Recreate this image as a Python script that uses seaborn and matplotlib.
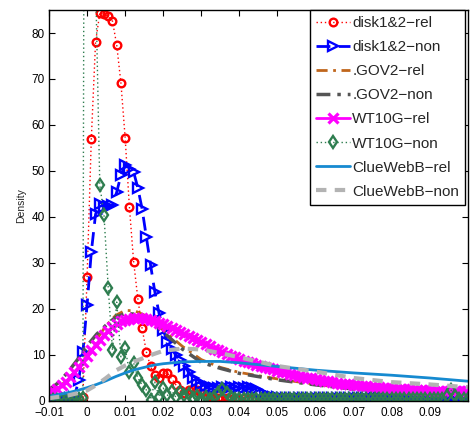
import numpy as np
import pandas as pd
import matplotlib
matplotlib.use("Agg")
import matplotlib.pyplot as plt
import seaborn as sns

sns.set_style("white")
plt.rcParams['font.family'] = ['Liberation Sans', 'DejaVu Sans']

# evaluation grid of the density estimates
x_fine = np.linspace(-0.01, 0.1, 100)
x_coarse = [-0.01, -0.0075, -0.005, -0.0025, 0.0, 0.0025, 0.005, 0.0075, 0.01, 0.0125,
            0.015, 0.0175, 0.02, 0.025, 0.03, 0.035, 0.04, 0.05, 0.06, 0.07, 0.08, 0.09, 0.1]

disk_rel = [0.4, 0.4, 0.4, 0.4, 0.4, 0.4, 0.4, 0.5, 0.9,
            27.0, 57.0, 78.0, 84.3, 84.1, 83.7, 82.6, 77.4, 69.1, 57.2,
            42.2, 30.3, 22.2, 15.8, 10.7, 7.5, 5.6, 5.0, 6.0, 6.1,
            4.8, 3.5, 2.4, 1.8, 2.3, 2.7, 2.4, 1.8, 1.3, 1.0,
            0.8, 0.7, 0.6, 0.6, 0.5, 0.5, 0.5, 0.6, 0.5, 0.5,
            0.5, 0.4, 0.4, 0.4, 0.4, 0.4, 0.4, 0.4, 0.4, 0.4,
            0.4, 0.4, 0.4, 0.4, 0.4, 0.4, 0.4, 0.4, 0.4, 0.4,
            0.4, 0.4, 0.4, 0.4, 0.4, 0.4, 0.4, 0.4, 0.4, 0.4,
            0.4, 0.4, 0.4, 0.4, 0.4, 0.4, 0.4, 0.4, 0.4, 0.4,
            0.4, 0.4, 0.4, 0.4, 0.4, 0.4, 0.4, 0.4, 0.4, 0.4, 0.4]

disk_non = [0.5, 0.5, 0.5, 0.5, 0.5, 0.6, 0.9,
            4.5, 10.6, 20.9, 32.4, 40.6, 42.8, 42.2, 42.4, 42.6, 45.4,
            49.1, 51.3, 50.5, 49.8, 46.3, 41.8, 35.7, 29.6, 23.8, 19.1,
            15.4, 12.8, 11.2, 10.0, 9.0, 7.5, 6.3, 5.0, 4.3, 3.7,
            3.3, 3.0, 2.9, 2.9, 3.0, 2.8, 3.0, 2.9, 3.1, 2.9,
            3.0, 2.8, 2.5, 2.0, 1.5, 1.1, 0.9, 0.8, 0.7, 0.7,
            0.7, 0.6, 0.7, 0.6, 0.7, 0.6, 0.7, 0.6, 0.7, 0.6,
            0.7, 0.6, 0.7, 0.6, 0.7, 0.6, 0.7, 0.6, 0.7, 0.6,
            0.7, 0.6, 0.7, 0.6, 0.7, 0.6, 0.7, 0.6, 0.7, 0.6,
            0.7, 0.6, 0.7, 0.6, 0.7, 0.6, 0.7, 0.6, 0.7, 0.6,
            0.7, 0.6, 0.7]

gov_rel = [1.8, 3.0, 4.7, 7.0, 10.0, 13.4, 16.4, 18.6, 19.7, 19.6, 18.7, 17.2,
           15.4, 11.9, 9.0, 7.3, 6.2, 4.8, 3.6, 2.6, 2.0, 1.6, 1.3]
gov_non = [2.4, 4.0, 6.3, 9.0, 12.0, 14.5, 16.5, 18.2, 19.0, 18.9, 18.1, 16.7,
           15.0, 11.3, 8.4, 7.1, 6.0, 4.6, 3.5, 2.6, 2.0, 1.6, 1.3]

wt_rel = [1.7, 2.2, 2.7, 3.4, 4.2, 5.2, 6.3, 7.4, 8.5, 9.7,
          11.0, 12.2, 13.3, 14.4, 15.3, 16.1, 16.8, 17.3, 17.7, 17.9,
          18.0, 18.05, 18.0, 17.8, 17.6, 17.3, 17.0, 16.7, 16.3, 15.9,
          15.5, 15.0, 14.6, 14.1, 13.7, 13.2, 12.8, 12.3, 11.9, 11.4,
          11.0, 10.6, 10.2, 9.8, 9.5, 9.1, 8.8, 8.5, 8.2, 7.9,
          7.6, 7.35, 7.1, 6.85, 6.6, 6.4, 6.2, 5.95, 5.75, 5.5,
          5.3, 5.1, 4.9, 4.75, 4.55, 4.4, 4.25, 4.1, 3.95, 3.8,
          3.7, 3.6, 3.5, 3.4, 3.3, 3.2, 3.1, 3.0, 2.95, 2.9,
          2.8, 2.75, 2.7, 2.6, 2.55, 2.5, 2.45, 2.4, 2.35, 2.3,
          2.3, 2.25, 2.25, 2.2, 2.2, 2.2, 2.15, 2.15, 2.1, 2.1]

wt_non = [0.3, 0.3, 0.3, 0.3, 0.3, 0.3, 0.3, 0.4, 0.6,
          400.0, 500.0, 92.0,
          47.0, 40.4, 24.6, 11.0, 21.5, 9.6, 11.5, 6.3, 8.3, 5.0,
          3.5, 2.4, 0.3, 4.1, 0.9, 2.8, 1.2, 2.2, 0.8, 2.0,
          1.2, 1.5, 0.6, 1.0, 0.5, 0.9, 0.5, 0.8, 1.8, 2.6,
          1.8, 0.8, 0.5, 0.4, 0.4, 0.4, 0.4, 0.4, 0.4, 0.4,
          0.4, 0.4, 0.4, 0.4, 0.4, 0.4, 0.4, 0.4, 0.4, 0.4,
          0.4, 0.4, 0.4, 0.4, 0.4, 0.4, 0.4, 0.4, 0.4, 0.4,
          0.4, 0.4, 0.4, 0.4, 0.4, 0.4, 0.4, 0.4, 0.4, 0.4,
          0.4, 0.4, 0.4, 0.4, 0.4, 0.4, 0.4, 0.4, 0.4, 0.4,
          0.4, 0.5, 1.0, 2.4, 1.0, 0.4, 0.4, 0.4]

cw_rel = [1.0, 1.4, 1.8, 2.3, 2.9, 3.6, 4.4, 5.3, 6.1, 6.8, 7.3, 7.8,
          8.1, 8.5, 8.6, 8.6, 8.3, 7.5, 6.7, 6.1, 5.6, 5.0, 4.3]
cw_non = [0.6, 0.9, 1.2, 1.7, 2.3, 3.5, 5.0, 6.6, 7.7, 8.6, 9.4, 10.2,
          10.9, 11.4, 11.2, 10.4, 9.5, 7.6, 6.4, 5.0, 4.1, 3.6, 3.0]

labels = ["disk1&2\u2212rel", "disk1&2\u2212non", ".GOV2\u2212rel", ".GOV2\u2212non",
          "WT10G\u2212rel", "WT10G\u2212non", "ClueWebB\u2212rel", "ClueWebB\u2212non"]

xtick_vals = [-0.01, 0.0, 0.01, 0.02, 0.03, 0.04, 0.05, 0.06, 0.07, 0.08, 0.09]
xtick_labels = ["\u22120.01", "0", "0.01", "0.02", "0.03", "0.04", "0.05", "0.06", "0.07", "0.08", "0.09"]
ytick_vals = [0, 10, 20, 30, 40, 50, 60, 70, 80]

fig = plt.figure(figsize=(4.7, 4.22), dpi=100)
ax = fig.add_axes([0.1043, 0.0498, 0.891, 0.9265])

def draw(x, y, label, **kw):
    sns.lineplot(x=np.asarray(x), y=np.asarray(y), ax=ax, label=label,
                 errorbar=None, sort=False, **kw)

draw(x_fine, disk_rel, labels[0], color="#ff0000", linestyle=(0, (1, 2)), linewidth=1.0,
     marker="o", markersize=5.5, markerfacecolor="none", markeredgecolor="#ff0000",
     markeredgewidth=1.7)
draw(x_fine, disk_non, labels[1], color="#0000ff", linestyle=(0, (5, 3)), linewidth=2.0,
     marker=">", markersize=6.5, markerfacecolor="none", markeredgecolor="#0000ff",
     markeredgewidth=1.7)
draw(x_coarse, gov_rel, labels[2], color="#c0661c", linestyle=(0, (4, 2, 1, 2)), linewidth=2.0)
draw(x_coarse, gov_non, labels[3], color="#555555", linestyle=(0, (4, 2, 1, 2)), linewidth=2.5)
draw(x_fine, wt_rel, labels[4], color="#ff00ff", linestyle="-", linewidth=2.0,
     marker="x", markersize=6.5, markeredgecolor="#ff00ff", markeredgewidth=2.3)
draw(x_fine, wt_non, labels[5], color="#2e7d4f", linestyle=(0, (1, 2)), linewidth=1.0,
     marker="d", markersize=6.5, markerfacecolor="none", markeredgecolor="#2e7d4f",
     markeredgewidth=1.7)
draw(x_coarse, cw_rel, labels[6], color="#168ad0", linestyle="-", linewidth=2.0)
draw(x_coarse, cw_non, labels[7], color="#b3b3b3", linestyle=(0, (2.5, 2)), linewidth=3.0)

ax.set_xlim(-0.01, 0.1)
ax.set_ylim(0, 85)
ax.set_xticks(xtick_vals, xtick_labels)
ax.set_yticks(ytick_vals, [str(v) for v in ytick_vals])
ax.set_xlabel("")
ax.set_ylabel("Density", fontsize=7.5, labelpad=4)

for s in ax.spines.values():
    s.set_visible(True)
    s.set_color("black")
    s.set_linewidth(1.0)
ax.tick_params(axis="both", direction="in", length=4, width=0.8, labelsize=8.5,
               top=True, right=True, bottom=True, left=True, colors="black", pad=3)
ax.tick_params(axis="x", pad=4.5)

leg = ax.legend(loc="upper right", bbox_to_anchor=(0.994, 1.0), borderaxespad=0,
                fontsize=11, frameon=True, fancybox=False, edgecolor="black",
                framealpha=1, handlelength=2.2, handletextpad=0.15,
                labelspacing=0.66, borderpad=0.4, numpoints=1)
leg.get_frame().set_linewidth(1.0)

fig.savefig("out.png", dpi=100)
